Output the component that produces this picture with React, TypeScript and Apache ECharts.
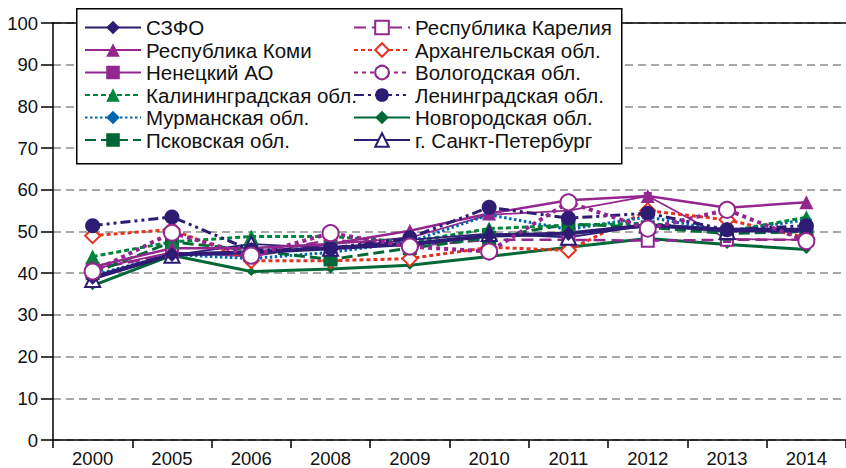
import React, { useEffect, useRef } from "react";
import * as echarts from "echarts";

const years = ["2000", "2005", "2006", "2008", "2009", "2010", "2011", "2012", "2013", "2014"];
const yTicks = { min: 0, max: 100, interval: 10 };

const szfo = [39, 44.5, 45, 46, 47, 49, 49.5, 51.5, 50.4, 50.4];
const komi = [41.5, 46, 46, 47, 50.2, 54.3, 57.5, 58.5, 55.7, 57];
const nenets = [41, 45, 44, 47, 48.5, 54, 55, 58.5, 48.2, 48];
const kalin = [44, 47.5, 48.8, 48.8, 47.5, 50.7, 51.5, 52, 50, 53.4];
const murm = [39.5, 44.5, 43.5, 45, 47.5, 54, 50.5, 53.5, 50, 52.8];
const pskov = [40, 47.5, 45.5, 43.3, 46, 48.5, 51.8, 51, 49.5, 50];
const karel = [41, 44.5, 44.5, 48, 46.5, 48, 48, 47.8, 48, 48];
const arkh = [49, 50.5, 43, 43, 43.5, 46.2, 45.5, 55, 52.8, 48.5];
const volog = [40.4, 49.7, 44.2, 49.6, 46.4, 45.2, 57, 50.7, 55.2, 47.7];
const lenin = [51.4, 53.5, 45.5, 46, 48.5, 55.8, 53.2, 54.4, 50.4, 51.4];
const novg = [37, 44.3, 40.4, 41, 41.9, 44, 46.2, 48.3, 46.9, 45.7];
const spb = [38.5, 44.3, 47, 46, 48, 49.5, 48.6, 51.5, 50, 50];

const names = {
  szfo: "СЗФО",
  komi: "Республика Коми",
  nenets: "Ненецкий АО",
  kalin: "Калининградская обл.",
  murm: "Мурманская обл.",
  pskov: "Псковская обл.",
  karel: "Республика Карелия",
  arkh: "Архангельская обл.",
  volog: "Вологодская обл.",
  lenin: "Ленинградская обл.",
  novg: "Новгородская обл.",
  spb: "г. Санкт-Петербург",
};

const NAVY = "#2d1b74";
const PURPLE = "#93278f";
const GREEN = "#00843d";
const DGREEN = "#006837";
const BLUE = "#0066b3";
const RED = "#e5331f";
const FONT = "'Liberation Sans', Arial, sans-serif";

function mk(name, data, color, width, type, symbol, size, extra = {}) {
  const empty = symbol.startsWith("empty");
  return {
    name,
    type: "line",
    data,
    symbol,
    symbolSize: size,
    showAllSymbol: true,
    lineStyle: { color, width, type },
    itemStyle: empty
      ? { color, borderColor: color, borderWidth: 2.5 }
      : { color, borderColor: color, borderWidth: 0 },
    color,
    z: 2,
    ...extra,
  };
}

export default function App() {
  const ref = useRef(null);
  useEffect(() => {
    const chart = echarts.init(ref.current, null, { renderer: "svg" });
    const legendText = { color: "#111", fontSize: 20.5, fontFamily: FONT };
    const legendBase = {
      orient: "vertical",
      top: 17,
      padding: 0,
      itemWidth: 56,
      itemHeight: 17,
      itemGap: 1.5,
      textStyle: legendText,
      selectedMode: false,
    };
    chart.setOption({
      animation: false,
      backgroundColor: "#fff",
      textStyle: { fontFamily: FONT },
      grid: { left: 53, right: -5, top: 23, bottom: 28 },
      graphic: [
        {
          type: "rect",
          left: 76,
          top: 8,
          z: 3,
          shape: { width: 545, height: 155 },
          style: { fill: "#fff", stroke: "#000", lineWidth: 1.5 },
        },
      ],
      legend: [
        {
          ...legendBase,
          left: 84,
          data: [names.szfo, names.komi, names.nenets, names.kalin, names.murm, names.pskov],
        },
        {
          ...legendBase,
          left: 353,
          data: [names.karel, names.arkh, names.volog, names.lenin, names.novg, names.spb],
        },
      ],
      xAxis: [
        {
          type: "category",
          data: years,
          boundaryGap: true,
          axisLine: { lineStyle: { color: "#000", width: 1.5 } },
          axisTick: { show: true, length: 8, lineStyle: { color: "#000", width: 1.5 } },
          axisLabel: { color: "#111", fontSize: 18.5, fontFamily: FONT, margin: 9 },
          splitLine: { show: false },
        },
        {
          type: "category",
          data: years,
          position: "top",
          axisLine: { lineStyle: { color: "#000", width: 1.5 } },
          axisTick: { show: false },
          axisLabel: { show: false },
          splitLine: { show: false },
        },
      ],
      yAxis: {
        type: "value",
        min: yTicks.min,
        max: yTicks.max,
        interval: yTicks.interval,
        axisLine: { show: true, lineStyle: { color: "#000", width: 1.5 } },
        axisTick: { show: true, length: 12, lineStyle: { color: "#000", width: 1.5 } },
        axisLabel: { color: "#111", fontSize: 18.5, fontFamily: FONT, margin: 15 },
        splitLine: { show: true, lineStyle: { color: "#8c8c8c", width: 1.5, type: [8, 5] } },
      },
      series: [
        mk(names.novg, novg, DGREEN, 3, "solid", "diamond", 9),
        mk(names.karel, karel, PURPLE, 2.5, [12, 6], "emptyRect", 12),
        mk(names.nenets, nenets, PURPLE, 1.8, "solid", "rect", 8),
        mk(names.arkh, arkh, RED, 3, [4, 3], "emptyDiamond", 15),
        mk(names.murm, murm, BLUE, 3, [2.5, 2.5], "diamond", 12),
        mk(names.pskov, pskov, DGREEN, 3, [11, 5], "rect", 14),
        mk(names.kalin, kalin, GREEN, 3, [5, 3], "triangle", 14),
        mk(names.spb, spb, NAVY, 1.8, "solid", "emptyTriangle", 15),
        mk(names.komi, komi, PURPLE, 2.5, "solid", "triangle", 14),
        mk(names.szfo, szfo, NAVY, 4, "solid", "diamond", 15),
        mk(names.lenin, lenin, NAVY, 3, [10, 4, 3, 4, 3, 4], "circle", 15),
        mk(names.volog, volog, PURPLE, 4, [4, 4], "emptyCircle", 16, {
          itemStyle: { color: PURPLE, borderColor: PURPLE, borderWidth: 3 },
        }),
      ],
    });
    return () => chart.dispose();
  }, []);
  return (
    <div
      ref={ref}
      style={{ position: "fixed", left: 0, top: 0, width: 846, height: 468, background: "#fff" }}
    />
  );
}
